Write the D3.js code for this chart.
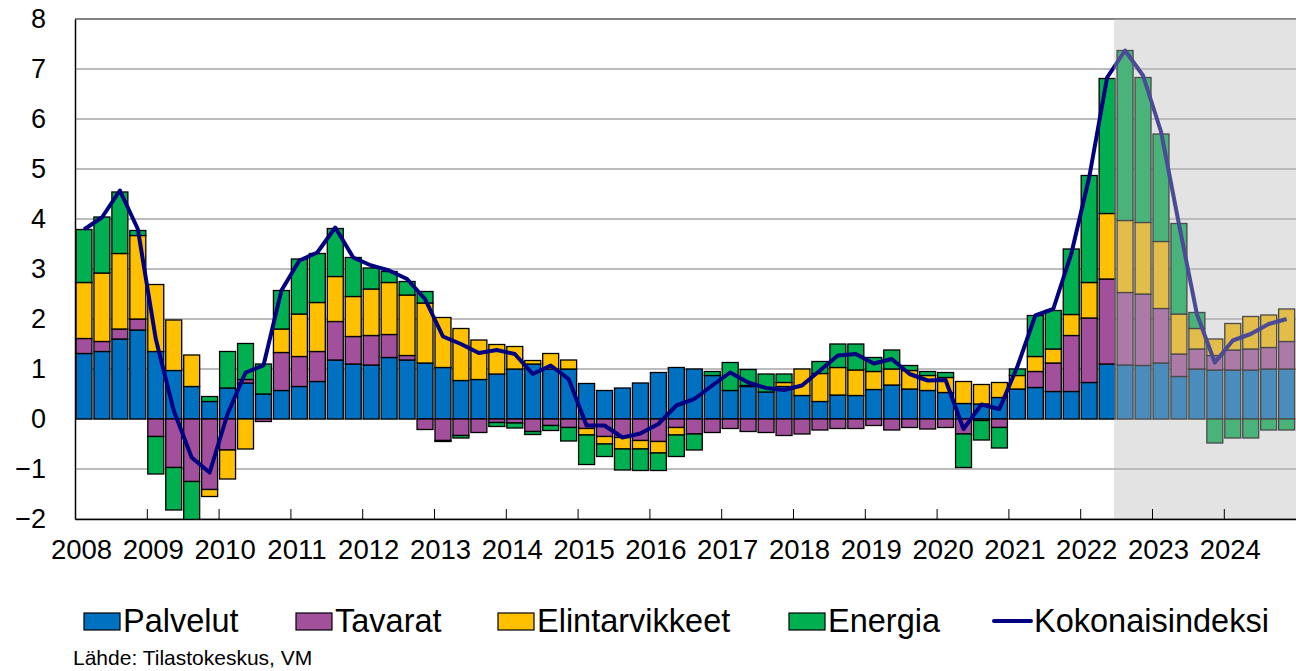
<head>
  <title>Inflaation komponentit</title>
  <meta charset="UTF-8">
  <script src="https://d3js.org/d3.v7.min.js"></script>
  <style>
    body { margin: 0; background: #ffffff; }
    text { font-family: "Liberation Sans", Arial, sans-serif; fill: #000; }
  </style>
</head>

<body>
  <div id="chart"></div>

  <script>
    // Quarters 2008Q1 .. 2024Q4
    const years = d3.range(2008, 2025);
    const quarters = [];
    years.forEach(y => { for (let q = 1; q <= 4; q++) quarters.push(y + "Q" + q); });

    // Contributions, %-points
    const palvelut = [1.31,1.35,1.60,1.78, 1.35,0.97,0.65,0.35, 0.62,0.72,0.50,0.57,
      0.65,0.75,1.18,1.10, 1.08,1.23,1.18,1.12, 1.03,0.77,0.79,0.90, 1.00,1.10,1.00,1.00,
      0.71,0.57,0.62,0.72, 0.93,1.03,1.00,0.87, 0.57,0.65,0.54,0.65, 0.47,0.35,0.48,0.47,
      0.59,0.68,0.60,0.57, 0.53,0.31,0.30,0.43, 0.60,0.63,0.55,0.55, 0.73,1.10,1.08,1.07,
      1.12,0.85,1.00,0.98, 0.98,0.98,1.00,1.00];
    const tavarat = [0.30,0.20,0.20,0.22, -0.35,-0.97,-1.25,-1.41, -0.62,0.07,-0.05,0.76,
      0.60,0.60,0.77,0.55, 0.59,0.46,0.09,-0.21, -0.43,-0.33,-0.27,-0.07, -0.08,-0.25,-0.13,-0.17,
      -0.19,-0.35,-0.37,-0.43, -0.45,-0.17,-0.30,-0.27, -0.19,-0.25,-0.27,-0.33, -0.30,-0.22,-0.19,-0.19,
      -0.13,-0.22,-0.17,-0.20, -0.17,-0.30,-0.03,-0.17, 0.00,0.32,0.57,1.12, 1.29,1.70,1.45,1.43,
      1.09,0.45,0.40,0.29, 0.40,0.42,0.43,0.55];
    const elintarvikkeet = [1.12,1.37,1.51,1.67, 1.34,1.01,0.63,-0.14, -0.58,-0.60,0.00,0.47,
      0.85,0.98,0.90,0.80, 0.93,1.04,1.21,1.20, 1.00,1.04,0.79,0.59, 0.45,0.07,0.31,0.18,
      -0.13,-0.15,-0.23,-0.17, -0.23,-0.15,0.00,0.00, 0.00,0.02,0.00,0.08, 0.53,0.56,0.55,0.51,
      0.36,0.32,0.37,0.30, 0.30,0.44,0.39,0.30, 0.27,0.30,0.28,0.42, 0.71,1.31,1.44,1.43,
      1.34,0.80,0.41,0.33, 0.53,0.65,0.65,0.65];
    const energia = [1.06,1.12,1.23,0.10, -0.75,-0.85,-0.85,0.10, 0.73,0.72,0.60,0.77,
      1.10,0.98,0.96,0.78, 0.42,0.22,0.27,0.23, -0.02,-0.05,0.00,-0.08, -0.10,-0.06,-0.10,-0.27,
      -0.59,-0.25,-0.42,-0.43, -0.35,-0.43,-0.32,0.08, 0.56,0.32,0.36,0.17, 0.00,0.24,0.47,0.52,
      0.28,0.38,0.10,0.08, 0.10,-0.67,-0.39,-0.41, 0.13,0.82,0.77,1.31, 2.14,2.70,3.40,2.90,
      2.15,1.81,0.32,-0.48, -0.38,-0.38,-0.22,-0.22];
    // Kokonaisindeksi, %
    const kokonais = [3.79,4.03,4.57,3.80, 1.60,0.17,-0.77,-1.07, 0.10,0.93,1.07,2.57,
      3.17,3.33,3.83,3.23, 3.07,2.97,2.80,2.40, 1.65,1.50,1.32,1.38, 1.30,0.90,1.07,0.80,
      -0.13,-0.13,-0.37,-0.29, -0.10,0.27,0.40,0.67, 0.93,0.73,0.62,0.58, 0.67,0.97,1.27,1.30,
      1.11,1.20,0.90,0.77, 0.78,-0.20,0.29,0.20, 1.05,2.07,2.20,3.30, 4.83,6.83,7.37,6.87,
      5.75,3.90,2.10,1.13, 1.57,1.70,1.90,2.00];

    const yTicks = d3.range(-2, 9);
    const forecastStart = "2022Q3";

    const series = [
      { key: "palvelut", name: "Palvelut", color: "#0070c0", values: palvelut },
      { key: "tavarat", name: "Tavarat", color: "#a3509c", values: tavarat },
      { key: "elintarvikkeet", name: "Elintarvikkeet", color: "#ffc000", values: elintarvikkeet },
      { key: "energia", name: "Energia", color: "#00b050", values: energia }
    ];

    // table for d3.stack
    const table = quarters.map((q, i) => {
      const row = { q: q };
      series.forEach(s => row[s.key] = s.values[i]);
      return row;
    });

    const W = 1296, H = 671;
    const plot = { left: 75, right: 1295.6, top: 19, bottom: 519 };

    const svg = d3.select("#chart").append("svg")
      .attr("width", W).attr("height", H);

    const x = d3.scaleBand().domain(quarters)
      .range([plot.left, plot.right]).paddingInner(0.11).paddingOuter(0.055);
    const xYear = d3.scaleLinear().domain([2008, 2025]).range([plot.left, plot.right]);
    const y = d3.scaleLinear().domain([-2, 8]).range([plot.bottom, plot.top]);

    // gridlines
    svg.append("g").selectAll("line")
      .data(yTicks)
      .join("line")
      .attr("x1", plot.left).attr("x2", W)
      .attr("y1", d => y(d)).attr("y2", d => y(d))
      .attr("stroke", d => d === 8 ? "#595959" : "#a6a6a6")
      .attr("stroke-width", 1.5);

    // stacked bars
    const stacked = d3.stack()
      .keys(series.map(s => s.key))
      .offset(d3.stackOffsetDiverging)(table);

    svg.append("clipPath").attr("id", "plotClip")
      .append("rect").attr("x", plot.left).attr("y", plot.top)
      .attr("width", W - plot.left).attr("height", plot.bottom - plot.top);

    const bars = svg.append("g").attr("clip-path", "url(#plotClip)");
    stacked.forEach((layer, k) => {
      bars.append("g")
        .attr("fill", series[k].color)
        .selectAll("rect")
        .data(layer.filter(d => d[1] !== d[0]))
        .join("rect")
        .attr("x", d => x(d.data.q))
        .attr("width", x.bandwidth())
        .attr("y", d => y(Math.max(d[0], d[1])))
        .attr("height", d => Math.abs(y(d[0]) - y(d[1])))
        .attr("stroke", "#000")
        .attr("stroke-width", 1.3);
    });

    // total index line
    const line = d3.line()
      .x((d, i) => x(quarters[i]) + x.bandwidth() / 2)
      .y(d => y(d));
    svg.append("path")
      .datum(kokonais)
      .attr("d", line)
      .attr("fill", "none")
      .attr("stroke", "#000080")
      .attr("stroke-width", 4)
      .attr("stroke-linejoin", "round");

    // forecast shading on top
    const fx = x(forecastStart) - x.step() * x.paddingInner() / 2 - 2;
    svg.append("rect")
      .attr("x", fx).attr("y", plot.top)
      .attr("width", W - fx).attr("height", plot.bottom - plot.top)
      .attr("fill", "rgb(185,185,185)")
      .attr("fill-opacity", 0.4);

    // axes
    const yAxis = svg.append("g")
      .attr("transform", `translate(${plot.left},0)`)
      .call(d3.axisLeft(y).tickValues(yTicks).tickSize(0).tickPadding(29).tickFormat(d3.format("d")));
    yAxis.select(".domain").attr("stroke", "#000").attr("stroke-width", 1.5);
    yAxis.selectAll("text").attr("font-size", 27).attr("font-family", null);

    const xAxis = svg.append("g")
      .attr("transform", `translate(0,${plot.bottom})`)
      .call(d3.axisBottom(xYear).tickValues(years).tickSize(-10).tickSizeOuter(0)
        .tickPadding(20).tickFormat(d3.format("d")));
    xAxis.select(".domain").attr("stroke", "#000").attr("stroke-width", 1.5);
    xAxis.selectAll(".tick line").attr("stroke", "#000").attr("stroke-width", 1);
    xAxis.selectAll("text").attr("font-size", 27.5).attr("font-family", null).attr("dx", 6);

    // legend
    const legendItems = [
      { name: "Palvelut", color: "#0070c0", x: 84 },
      { name: "Tavarat", color: "#a3509c", x: 296 },
      { name: "Elintarvikkeet", color: "#ffc000", x: 498 },
      { name: "Energia", color: "#00b050", x: 789 }
    ];
    const legend = svg.append("g");
    legendItems.forEach(d => {
      legend.append("rect")
        .attr("x", d.x).attr("y", 613).attr("width", 36).attr("height", 17)
        .attr("fill", d.color).attr("stroke", "#000").attr("stroke-width", 1.2);
      legend.append("text")
        .attr("x", d.x + 39).attr("y", 632)
        .attr("font-size", 32.5).text(d.name);
    });
    legend.append("line")
      .attr("x1", 994).attr("x2", 1031).attr("y1", 621).attr("y2", 621)
      .attr("stroke", "#000080").attr("stroke-width", 4).attr("stroke-linecap", "round");
    legend.append("text")
      .attr("x", 1034).attr("y", 632)
      .attr("font-size", 32.5).text("Kokonaisindeksi");

    // source
    svg.append("text")
      .attr("x", 73).attr("y", 665)
      .attr("font-size", 21).text("Lähde: Tilastokeskus, VM");
  </script>
</body>
